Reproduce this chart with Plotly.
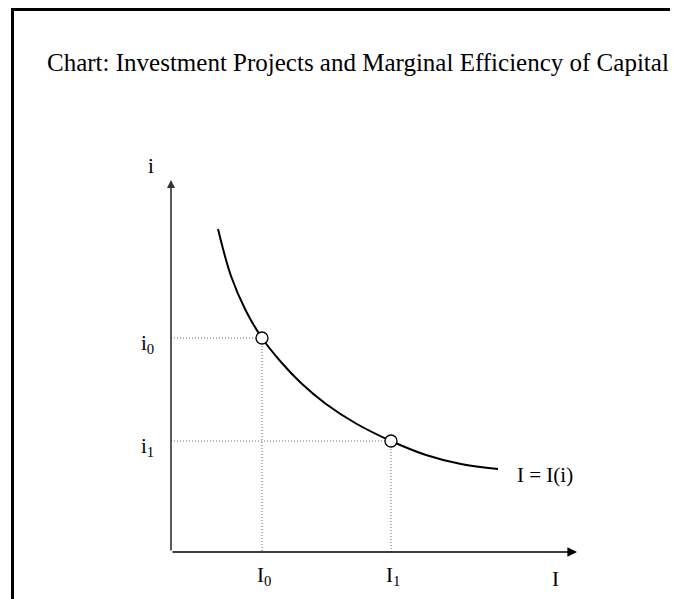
import plotly.graph_objects as go

# curve I = I(i) (I on x, i on y)
I_curve = [4.7, 6.0, 7.5, 9.1, 11.0, 13.0, 15.5, 18.5, 22.0, 25.5, 29.0, 32.7]
i_curve = [32.3, 27.6, 24.1, 21.4, 19.0, 16.9, 14.8, 12.85, 11.1, 9.7, 8.8, 8.3]

# marked points on the curve
I_points = [9.1, 22.0]
i_points = [21.4, 11.1]
I_labels = ["I<sub>0</sub>", "I<sub>1</sub>"]
i_labels = ["i<sub>0</sub>", "i<sub>1</sub>"]

I_axis_end = 40.6
i_axis_end = 37.2

W, H = 678, 591
font = dict(family="Liberation Serif, Times New Roman, serif", size=21, color="black")

fig = go.Figure()

# dotted guide lines
for I, i in zip(I_points, i_points):
    fig.add_trace(go.Scatter(
        x=[0, I, I], y=[i, i, 0],
        mode="lines",
        line=dict(color="#666666", width=1, dash="1px,2px"),
        hoverinfo="skip"
    ))

fig.add_trace(go.Scatter(
    x=I_curve, y=i_curve,
    mode="lines",
    line=dict(color="black", width=2, shape="spline", smoothing=1),
    name="I = I(i)"
))

fig.add_trace(go.Scatter(
    x=I_points, y=i_points,
    mode="markers",
    marker=dict(size=12, color="white", line=dict(color="black", width=1.3))
))

# axes with arrows
fig.add_annotation(x=I_axis_end, y=0, ax=0, ay=0, xref="x", yref="y", axref="x", ayref="y",
                   showarrow=True, arrowhead=2, arrowsize=1.2, arrowwidth=1.6,
                   arrowcolor="black", text="")
fig.add_annotation(x=0, y=i_axis_end, ax=0, ay=0, xref="x", yref="y", axref="x", ayref="y",
                   showarrow=True, arrowhead=2, arrowsize=1.0, arrowwidth=1.6,
                   arrowcolor="#333333", text="")

# labels
fig.add_annotation(x=-2.0, y=38.6, text="i", showarrow=False, font=font)
fig.add_annotation(x=38.4, y=-2.7, text="I", showarrow=False, font=font)
for I, lab in zip(I_points, I_labels):
    fig.add_annotation(x=I + 0.2, y=-2.4, text=lab, showarrow=False, font=font)
for i, lab in zip(i_points, i_labels):
    fig.add_annotation(x=-2.4, y=i - 0.6, text=lab, showarrow=False, font=font)
fig.add_annotation(x=37.4, y=7.7, text="I = I(i)", showarrow=False, font=font)

fig.add_annotation(x=350 / W, y=1 - 39 / H, xref="paper", yref="paper",
                   text="Chart: Investment Projects and Marginal Efficiency of Capital",
                   showarrow=False, font=dict(font, size=25))

# frame (left and top edges; the rest runs off the page)
fig.add_shape(type="line", xref="paper", yref="paper",
              x0=4.5 / W, y0=1 - 1.5 / H, x1=1.2, y1=1 - 1.5 / H,
              line=dict(color="black", width=3))
fig.add_shape(type="line", xref="paper", yref="paper",
              x0=4.5 / W, y0=1, x1=4.5 / W, y1=-0.1,
              line=dict(color="black", width=3))

fig.update_layout(
    width=W, height=H,
    margin=dict(l=0, r=0, t=0, b=0),
    plot_bgcolor="white", paper_bgcolor="white",
    showlegend=False,
    xaxis=dict(range=[-16.3, -16.3 + W / 10], visible=False),
    yaxis=dict(range=[-4.7, 54.4], visible=False),
)

fig.write_html("out.html")
